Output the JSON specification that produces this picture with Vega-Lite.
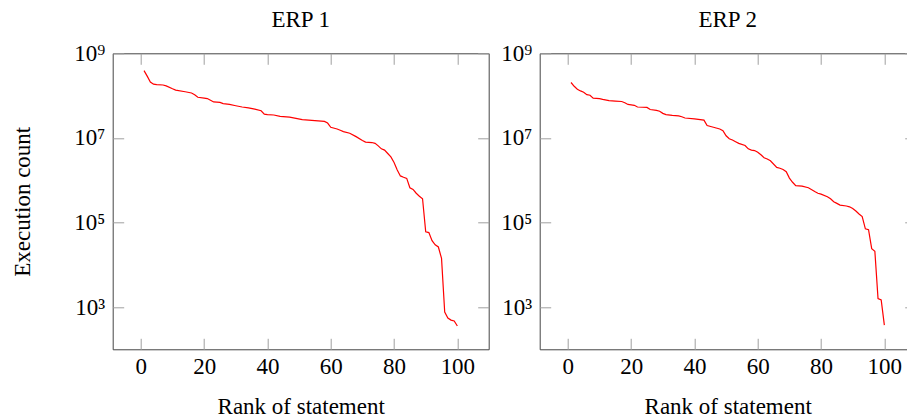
{
  "$schema": "https://vega.github.io/schema/vega-lite/v6.json",
  "background": "white",
  "padding": {"left": 10.7, "top": 8.3, "right": 0, "bottom": 0},
  "spacing": 10,
  "datasets": {
    "erp1": [
      {"rank": 1, "count": 389000000}, {"rank": 2, "count": 288000000}, {"rank": 3, "count": 209000000},
      {"rank": 4, "count": 186000000}, {"rank": 5, "count": 182000000}, {"rank": 7, "count": 178000000},
      {"rank": 8, "count": 170000000}, {"rank": 10, "count": 145000000}, {"rank": 11, "count": 135000000},
      {"rank": 14, "count": 123000000}, {"rank": 16, "count": 115000000}, {"rank": 17, "count": 105000000},
      {"rank": 18, "count": 91200000}, {"rank": 20, "count": 87100000}, {"rank": 21, "count": 85100000},
      {"rank": 22, "count": 77600000}, {"rank": 23, "count": 70800000}, {"rank": 25, "count": 69200000},
      {"rank": 26, "count": 64600000}, {"rank": 28, "count": 61700000}, {"rank": 30, "count": 57500000},
      {"rank": 32, "count": 53700000}, {"rank": 34, "count": 51300000}, {"rank": 36, "count": 47900000},
      {"rank": 38, "count": 43700000}, {"rank": 39, "count": 36300000}, {"rank": 40, "count": 35500000},
      {"rank": 42, "count": 34700000}, {"rank": 44, "count": 32400000}, {"rank": 47, "count": 30900000},
      {"rank": 49, "count": 28800000}, {"rank": 51, "count": 26900000}, {"rank": 55, "count": 25700000},
      {"rank": 58, "count": 24500000}, {"rank": 59, "count": 22400000}, {"rank": 60, "count": 17800000},
      {"rank": 62, "count": 16200000}, {"rank": 63, "count": 15100000}, {"rank": 64, "count": 14100000},
      {"rank": 66, "count": 12900000}, {"rank": 68, "count": 10700000}, {"rank": 70, "count": 8710000},
      {"rank": 71, "count": 7940000}, {"rank": 73, "count": 7760000}, {"rank": 74, "count": 7410000},
      {"rank": 75, "count": 6460000}, {"rank": 76, "count": 5500000}, {"rank": 77, "count": 5130000},
      {"rank": 78, "count": 4270000}, {"rank": 79, "count": 3550000}, {"rank": 80, "count": 2630000},
      {"rank": 81, "count": 1740000}, {"rank": 82, "count": 1260000}, {"rank": 83, "count": 1170000},
      {"rank": 84, "count": 1100000}, {"rank": 85, "count": 661000}, {"rank": 86, "count": 603000},
      {"rank": 87, "count": 490000}, {"rank": 88, "count": 417000}, {"rank": 89, "count": 363000},
      {"rank": 90, "count": 60300}, {"rank": 91, "count": 57500}, {"rank": 92, "count": 37200},
      {"rank": 93, "count": 29500}, {"rank": 94, "count": 26300}, {"rank": 95, "count": 14100},
      {"rank": 96, "count": 759}, {"rank": 97, "count": 550}, {"rank": 98, "count": 490},
      {"rank": 99, "count": 468}, {"rank": 100, "count": 355}
    ],
    "erp2": [
      {"rank": 1, "count": 204000000}, {"rank": 2, "count": 166000000}, {"rank": 3, "count": 141000000},
      {"rank": 4, "count": 129000000}, {"rank": 5, "count": 120000000}, {"rank": 6, "count": 105000000},
      {"rank": 7, "count": 102000000}, {"rank": 8, "count": 87100000}, {"rank": 10, "count": 85100000},
      {"rank": 11, "count": 81300000}, {"rank": 13, "count": 75900000}, {"rank": 15, "count": 74100000},
      {"rank": 17, "count": 72400000}, {"rank": 18, "count": 67600000}, {"rank": 19, "count": 61700000},
      {"rank": 20, "count": 60300000}, {"rank": 21, "count": 58900000}, {"rank": 22, "count": 53700000},
      {"rank": 25, "count": 52500000}, {"rank": 26, "count": 46800000}, {"rank": 28, "count": 44700000},
      {"rank": 29, "count": 42700000}, {"rank": 30, "count": 38000000}, {"rank": 31, "count": 35500000},
      {"rank": 33, "count": 33900000}, {"rank": 35, "count": 33100000}, {"rank": 36, "count": 31600000},
      {"rank": 37, "count": 29500000}, {"rank": 40, "count": 28200000}, {"rank": 43, "count": 26300000},
      {"rank": 44, "count": 19500000}, {"rank": 46, "count": 17800000}, {"rank": 48, "count": 16200000},
      {"rank": 49, "count": 14800000}, {"rank": 50, "count": 11200000}, {"rank": 51, "count": 9550000},
      {"rank": 52, "count": 8910000}, {"rank": 53, "count": 8130000}, {"rank": 54, "count": 7410000},
      {"rank": 56, "count": 6610000}, {"rank": 57, "count": 5500000}, {"rank": 58, "count": 5130000},
      {"rank": 59, "count": 5010000}, {"rank": 60, "count": 4570000}, {"rank": 61, "count": 3980000},
      {"rank": 62, "count": 3390000}, {"rank": 63, "count": 3160000}, {"rank": 64, "count": 2880000},
      {"rank": 66, "count": 2000000}, {"rank": 67, "count": 1910000}, {"rank": 68, "count": 1780000},
      {"rank": 69, "count": 1580000}, {"rank": 70, "count": 1120000}, {"rank": 71, "count": 891000},
      {"rank": 72, "count": 741000}, {"rank": 74, "count": 724000}, {"rank": 76, "count": 661000},
      {"rank": 78, "count": 537000}, {"rank": 79, "count": 490000}, {"rank": 80, "count": 468000},
      {"rank": 82, "count": 407000}, {"rank": 83, "count": 363000}, {"rank": 84, "count": 309000},
      {"rank": 85, "count": 282000}, {"rank": 86, "count": 257000}, {"rank": 88, "count": 245000},
      {"rank": 89, "count": 234000}, {"rank": 90, "count": 214000}, {"rank": 91, "count": 186000},
      {"rank": 92, "count": 158000}, {"rank": 93, "count": 138000}, {"rank": 94, "count": 70800},
      {"rank": 95, "count": 67600}, {"rank": 96, "count": 24000}, {"rank": 97, "count": 20900},
      {"rank": 98, "count": 1585}, {"rank": 99, "count": 1479}, {"rank": 100, "count": 372}
    ]
  },
  "config": {
    "font": "Liberation Serif",
    "view": {"stroke": "#444444", "strokeWidth": 1},
    "axis": {
      "labelFont": "Liberation Serif", "labelFontSize": 23, "labelColor": "black",
      "titleFont": "Liberation Serif", "titleFontSize": 23, "titleFontWeight": "normal", "titleColor": "black",
      "tickColor": "#a0a0a0", "tickSize": -11, "tickWidth": 1, "domain": false, "grid": false,
      "labelOverlap": false, "labelFlush": false, "minExtent": 0, "maxExtent": 400
    },
    "title": {"font": "Liberation Serif", "fontSize": 23, "fontWeight": "normal", "color": "black"}
  },
  "hconcat": [
    {
      "width": 376, "height": 296,
      "title": {"text": "ERP 1", "baseline": "alphabetic", "offset": -7.6, "anchor": "middle", "frame": "group"},
      "data": {"name": "erp1"},
      "resolve": {"axis": {"x": "independent", "y": "independent"}},
      "layer": [
        {
          "mark": {"type": "line", "color": "#ff0000", "strokeWidth": 1.2},
          "encoding": {
            "x": {"field": "rank", "type": "quantitative",
              "scale": {"domain": [-8.9, 109.9], "nice": false, "zero": false},
              "axis": {"orient": "bottom", "values": [0, 20, 40, 60, 80, 100], "labelBaseline": "alphabetic", "labelPadding": 35.6,
                "title": "Rank of statement", "titleX": 188, "titleY": 64.6, "titleBaseline": "alphabetic", "titleAlign": "center", "titleAnchor": null}},
            "y": {"field": "count", "type": "quantitative",
              "scale": {"type": "log", "domain": [100, 1000000000], "nice": false},
              "axis": {"orient": "left", "values": [1000, 100000, 10000000, 1000000000], "labelPadding": 19,
                "labelExpr": "datum.value == 1e9 ? '10⁹' : datum.value == 1e7 ? '10⁷' : datum.value == 1e5 ? '10⁵' : '10³'",
                "title": "Execution count", "titleX": -83.4, "titleY": 148, "titleAngle": -90, "titleBaseline": "alphabetic", "titleAlign": "center", "titleAnchor": null}}
          }
        },
        {
          "mark": {"type": "line", "strokeOpacity": 0},
          "encoding": {
            "x": {"field": "rank", "type": "quantitative",
              "axis": {"orient": "top", "values": [0, 20, 40, 60, 80, 100], "labels": false, "title": null}},
            "y": {"field": "count", "type": "quantitative",
              "axis": {"orient": "right", "values": [1000, 100000, 10000000, 1000000000], "labels": false, "title": null}}
          }
        }
      ]
    },
    {
      "width": 376, "height": 296,
      "title": {"text": "ERP 2", "baseline": "alphabetic", "offset": -7.6, "anchor": "middle", "frame": "group"},
      "data": {"name": "erp2"},
      "resolve": {"axis": {"x": "independent", "y": "independent"}},
      "layer": [
        {
          "mark": {"type": "line", "color": "#ff0000", "strokeWidth": 1.2},
          "encoding": {
            "x": {"field": "rank", "type": "quantitative",
              "scale": {"domain": [-8.9, 109.9], "nice": false, "zero": false},
              "axis": {"orient": "bottom", "values": [0, 20, 40, 60, 80, 100], "labelBaseline": "alphabetic", "labelPadding": 35.6,
                "title": "Rank of statement", "titleX": 188, "titleY": 64.6, "titleBaseline": "alphabetic", "titleAlign": "center", "titleAnchor": null}},
            "y": {"field": "count", "type": "quantitative",
              "scale": {"type": "log", "domain": [100, 1000000000], "nice": false},
              "axis": {"orient": "left", "values": [1000, 100000, 10000000, 1000000000], "labelPadding": 19,
                "labelExpr": "datum.value == 1e9 ? '10⁹' : datum.value == 1e7 ? '10⁷' : datum.value == 1e5 ? '10⁵' : '10³'",
                "title": null}}
          }
        },
        {
          "mark": {"type": "line", "strokeOpacity": 0},
          "encoding": {
            "x": {"field": "rank", "type": "quantitative",
              "axis": {"orient": "top", "values": [0, 20, 40, 60, 80, 100], "labels": false, "title": null}},
            "y": {"field": "count", "type": "quantitative",
              "axis": {"orient": "right", "values": [1000, 100000, 10000000, 1000000000], "labels": false, "title": null}}
          }
        }
      ]
    }
  ]
}
